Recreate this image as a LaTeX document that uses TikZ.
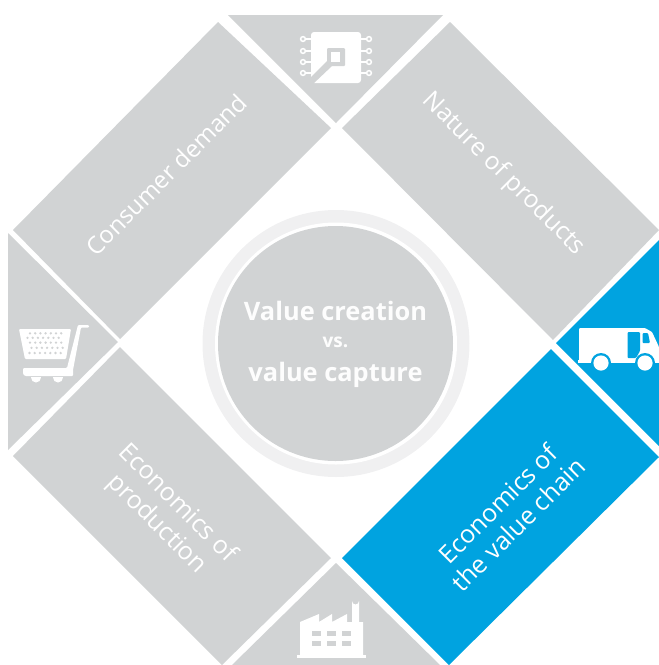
\documentclass[tikz,border=0pt]{standalone}
\usepackage{fontspec}
\setmainfont{Open Sans}
\definecolor{segGray}{HTML}{D1D3D4}
\definecolor{segBlue}{HTML}{00A3E0}
\definecolor{ringGray}{HTML}{F0F0F1}
\tikzset{
  seg/.style={fill=segGray,draw=none},
  segb/.style={fill=segBlue,draw=none},
  ic/.style={fill=white,draw=none},
  lab/.style={text=white,font=\fontsize{24}{28}\selectfont,align=center,inner sep=0pt},
  labw/.style={lab,font=\fontsize{25}{29}\selectfont},
  mid/.style={text=white!95!segGray,font=\fontsize{25.4}{28}\selectfont\bfseries,inner sep=0pt,anchor=base},
}
\begin{document}
\begin{tikzpicture}[x=1pt,y=-1pt]
\useasboundingbox (0,0) rectangle (659,665);
% segments
\path[seg] (228,15) -- (443,15) -- (336,123) -- cycle;
\path[seg] (218,22) -- (331,128) -- (120,339) -- (13,230) -- cycle;
\path[seg] (450,22) -- (659,230) -- (553,340) -- (342,128) -- cycle;
\path[seg] (8,233) -- (118,342) -- (8,450) -- cycle;
\path[seg] (120,347) -- (331,558) -- (222,665) -- (13,456) -- cycle;
\path[seg] (336,563) -- (440,665) -- (232,665) -- cycle;
\path[segb] (659,240) -- (556,343) -- (659,446) -- cycle;
\path[segb] (551,349) -- (659,457) -- (449,665) -- (342,558) -- cycle;
% hub
\fill[ringGray] (336,343.5) circle[radius=133.5];
\fill[white] (336,343.5) circle[radius=121];
\fill[segGray] (335.5,343.5) circle[radius=117.5];
\node[mid] (hub1) at (335.5,320) {Value creation};
\node[mid,font=\fontsize{19}{22}\selectfont\bfseries] (hub2) at (335.5,347) {vs.};
\node[mid] (hub3) at (335.5,381) {value capture};
% labels
\node[lab,rotate=45] (l1) at (166,174.5) {Consumer demand};
\node[lab,font=\fontsize{24.7}{28}\selectfont,rotate=-45] (l2) at (503.5,174) {Nature of products};
\node[labw,rotate=-45] (l3) at (167,514) {Economics of\\production};
\node[labw,rotate=45] (l4) at (508,514) {Economics of\\the value chain};
% chip icon
\fill[ic,rounded corners=3pt] (311,32) rectangle (361,83);
\fill[segGray,rounded corners=1pt] (327,48) rectangle (345,66);
\fill[white] (331,52) rectangle (340,62);
\fill[segGray] (327,61) -- (332,66) -- (313,84) -- (308,84) -- (308,80) -- cycle;
\foreach \yy in {39,51,62,73}{
  \draw[white,line width=1.2pt] (306,\yy) -- (312,\yy) (360,\yy) -- (366,\yy);
  \draw[white,line width=1.5pt] (303,\yy) circle[radius=2.4] (369,\yy) circle[radius=2.4];
}
% cart icon
\fill[ic,rounded corners=1pt] (19,329) -- (71,329) -- (66,359) -- (25,359) -- cycle;
\fill[ic,rounded corners=1pt] (78,325) -- (89,325) -- (89,327.5) -- (81,327.5) -- (73,370) -- (73,376) -- (25,376) -- (23,374) -- (23,368) -- (67,368) -- cycle;
\foreach \wx in {36,58}{
  \begin{scope}
    \clip (\wx-6,377.5) rectangle (\wx+6,384);
    \fill[ic] (\wx,377.5) circle[radius=5];
  \end{scope}
}
\foreach \rr/\xs in {333.3/30,337.8/27.5,342.6/30,347.8/31.5,353/29.5}{
  \foreach \kk in {0,...,6}{
    \fill[segGray] ({\xs+\kk*5.2},\rr) circle[radius=1.3];
  }
}
% truck icon
\begin{scope}
\clip (0,0) rectangle (659,665);
\fill[ic,rounded corners=1pt] (579,328) -- (645,328) -- (652,332) -- (659,347) -- (660,362) -- (579,362) -- cycle;
\fill[ic] (578,360) rectangle (659,363);
\fill[segBlue,rounded corners=1pt] (627.5,332) -- (640,332) -- (640,351) -- (636,358) -- (627.5,358) -- cycle;
\fill[segBlue,rounded corners=1pt] (642.5,333) -- (648,333) -- (650,343) -- (642.5,343) -- cycle;
\fill[segBlue] (601,363) circle[radius=10] (645,363) circle[radius=10];
\fill[segBlue] (590,363.5) rectangle (656,370);
\fill[ic] (601,363) circle[radius=7.6] (645,363) circle[radius=7.6];
\end{scope}
% factory icon
\fill[ic] (297,655) rectangle (366,658);
\fill[ic] (300,655) -- (300,622) -- (319,614) -- (319,622) -- (332,614) -- (332,622) -- (347,614) -- (347,622) -- (352,622) -- (352,601) arc[start angle=180,end angle=0,radius=3.5] -- (359,622) -- (363,622) -- (363,655) -- cycle;
\foreach \xx in {312,327,342}{
  \fill[segGray] (\xx,631) rectangle +(9,5);
  \fill[segGray] (\xx,641) rectangle +(9,5);
}
\end{tikzpicture}
\end{document}
